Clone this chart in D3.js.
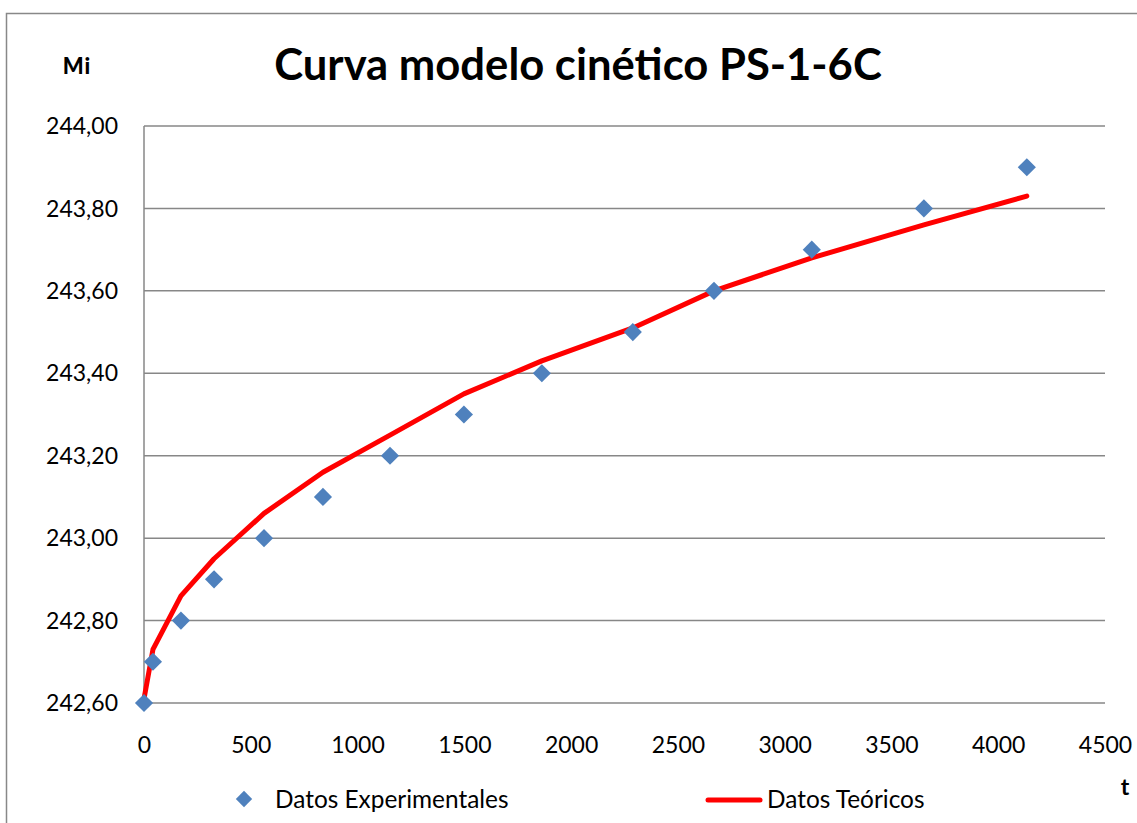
<!DOCTYPE html>
<html>
<head>
<meta charset="utf-8">
<script src="https://cdn.jsdelivr.net/npm/d3@7"></script>
<style>
  html, body { margin: 0; padding: 0; background: #fff; }
  svg { display: block; }
</style>
</head>
<body>
<svg id="chart" width="1137" height="823"></svg>
<script>
// Time values (t) and measured Mi
const tValues = [0, 42, 173, 328, 562, 838, 1152, 1498, 1863, 2289, 2669, 3127, 3652, 4134];
const experimental = [242.60, 242.70, 242.80, 242.90, 243.00, 243.10, 243.20, 243.30, 243.40, 243.50, 243.60, 243.70, 243.80, 243.90];
// Kinetic model curve at the same times
const theoretical = [242.61, 242.73, 242.86, 242.95, 243.06, 243.16, 243.25, 243.35, 243.43, 243.51, 243.60, 243.68, 243.76, 243.83];

const xTicks = [0, 500, 1000, 1500, 2000, 2500, 3000, 3500, 4000, 4500];
const yTicks = [242.6, 242.8, 243.0, 243.2, 243.4, 243.6, 243.8, 244.0];

const titleText = "Curva modelo cinético PS-1-6C";
const yLabel = "Mi";
const xLabel = "t";
const seriesNames = ["Datos Experimentales", "Datos Teóricos"];

const FONT = "Lato, 'Open Sans', sans-serif";
const svg = d3.select("#chart");
const plot = { left: 144, right: 1105, top: 126, bottom: 703 };

const x = d3.scaleLinear().domain([0, 4500]).range([plot.left, plot.right]);
const y = d3.scaleLinear().domain([242.6, 244.0]).range([plot.bottom, plot.top]);

const fmtY = v => d3.format(".2f")(v).replace(".", ",");

// Outer chart frame
svg.append("rect")
  .attr("x", 6.5).attr("y", 13.5)
  .attr("width", 1140).attr("height", 820)
  .attr("fill", "#fff").attr("stroke", "#888").attr("stroke-width", 1.5);

// Horizontal gridlines
svg.append("g")
  .selectAll("line")
  .data(yTicks)
  .join("line")
  .attr("x1", plot.left).attr("x2", plot.right)
  .attr("y1", d => y(d)).attr("y2", d => y(d))
  .attr("stroke", "#878787").attr("stroke-width", 1.5);

// Vertical axis line
svg.append("line")
  .attr("x1", plot.left).attr("x2", plot.left)
  .attr("y1", plot.top).attr("y2", plot.bottom)
  .attr("stroke", "#878787").attr("stroke-width", 1.5);

// Y axis tick labels
const yAxis = d3.axisLeft(y).tickValues(yTicks).tickFormat(fmtY).tickSize(0).tickPadding(26);
const gy = svg.append("g").attr("transform", `translate(${plot.left},0)`).call(yAxis);
gy.select(".domain").remove();
gy.selectAll("text")
  .attr("font-size", 23).attr("font-family", FONT).attr("fill", "#000")
  .attr("dy", "0.33em");

// X axis tick labels
const xAxis = d3.axisBottom(x).tickValues(xTicks).tickFormat(d3.format("d")).tickSize(0).tickPadding(0);
const gx = svg.append("g").attr("transform", `translate(0,${plot.bottom})`).call(xAxis);
gx.select(".domain").remove();
gx.selectAll("text")
  .attr("font-size", 23).attr("font-family", FONT).attr("fill", "#000")
  .attr("y", 50).attr("dy", 0);

// Model curve
const line = d3.line().x((d, i) => x(tValues[i])).y(d => y(d));
svg.append("path")
  .datum(theoretical)
  .attr("d", line)
  .attr("fill", "none")
  .attr("stroke", "#ff0000")
  .attr("stroke-width", 5)
  .attr("stroke-linejoin", "round")
  .attr("stroke-linecap", "round");

// Experimental points as diamonds
const diamond = d3.symbol().type(d3.symbolDiamond2).size(210);
svg.append("g")
  .selectAll("path")
  .data(experimental)
  .join("path")
  .attr("d", diamond)
  .attr("transform", (d, i) => `translate(${x(tValues[i])},${y(d)})`)
  .attr("fill", "#4f81bd");

// Title and axis labels
svg.append("text")
  .attr("x", 578).attr("y", 80)
  .attr("text-anchor", "middle")
  .attr("font-family", FONT)
  .attr("font-size", 43.6).attr("font-weight", "bold")
  .text(titleText);

svg.append("text")
  .attr("x", 77).attr("y", 74)
  .attr("text-anchor", "middle")
  .attr("font-family", FONT)
  .attr("font-size", 22).attr("font-weight", "900")
  .attr("letter-spacing", 1)
  .text(yLabel);

svg.append("text")
  .attr("x", 1125).attr("y", 795)
  .attr("text-anchor", "middle")
  .attr("font-family", FONT)
  .attr("font-size", 23).attr("font-weight", "bold")
  .text(xLabel);

// Legend
svg.append("path")
  .attr("d", d3.symbol().type(d3.symbolDiamond2).size(170))
  .attr("transform", "translate(244,799)")
  .attr("fill", "#4f81bd");
svg.append("text")
  .attr("x", 275).attr("y", 808)
  .attr("font-family", FONT)
  .attr("font-size", 24.4)
  .text(seriesNames[0]);

svg.append("line")
  .attr("x1", 708).attr("x2", 760)
  .attr("y1", 800).attr("y2", 800)
  .attr("stroke", "#ff0000").attr("stroke-width", 5)
  .attr("stroke-linecap", "round");
svg.append("text")
  .attr("x", 767).attr("y", 808)
  .attr("font-family", FONT)
  .attr("font-size", 24.4)
  .text(seriesNames[1]);
</script>
</body>
</html>
